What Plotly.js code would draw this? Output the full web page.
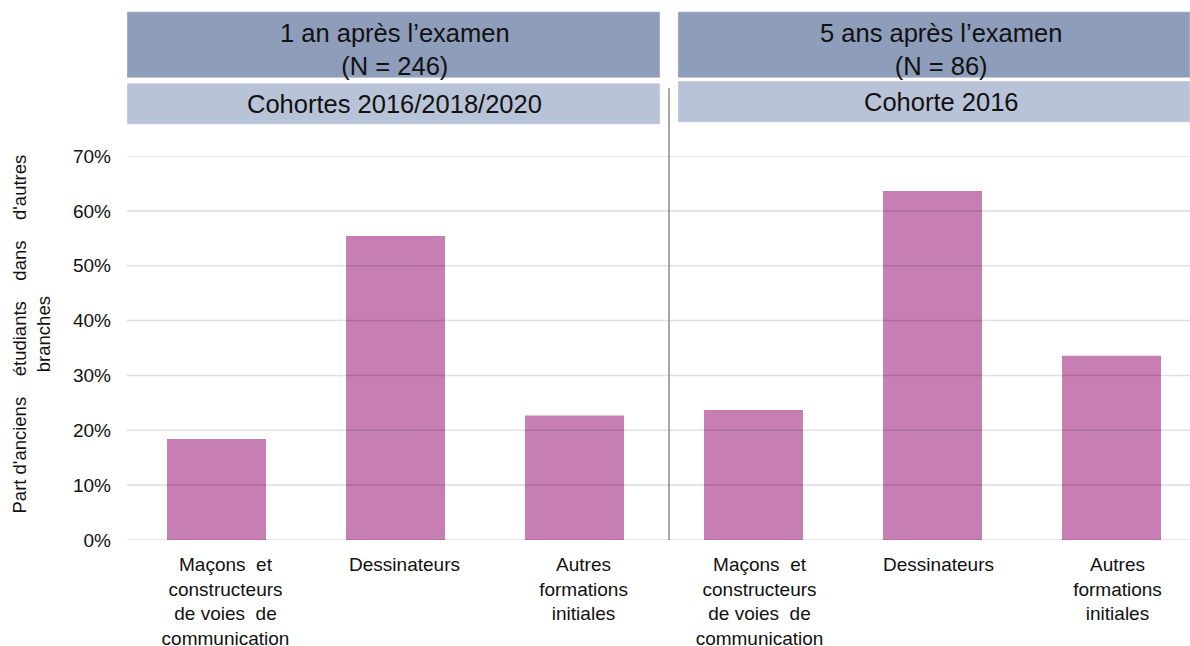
<!DOCTYPE html>
<html>
<head>
<meta charset="utf-8">
<script src="https://cdn.plot.ly/plotly-3.0.1.min.js"></script>
<style>html,body{margin:0;padding:0;background:#fff;}#chart{width:1190px;height:646px;}</style>
</head>
<body>
<div id="chart"></div>
<script>
// ---- data ----
const categories = [
  "Maçons\u00a0\u00a0et<br>constructeurs<br>de voies\u00a0\u00a0de<br>communication",
  "Dessinateurs",
  "Autres<br>formations<br>initiales"
];
const values1an = [0.184, 0.554, 0.227];   // 1 an après l'examen, cohortes 2016/2018/2020
const values5ans = [0.237, 0.636, 0.336];  // 5 ans après l'examen, cohorte 2016
const yTickVals = [0, 0.1, 0.2, 0.3, 0.4, 0.5, 0.6, 0.7];
const yTickText = ["0%", "10%", "20%", "30%", "40%", "50%", "60%", "70%"];
const panelTitles = ["1 an après l’examen<br>(N = 246)", "5 ans après l’examen<br>(N = 86)"];
const panelSubtitles = ["Cohortes 2016/2018/2020", "Cohorte 2016"];
const yTitle = "Part d'anciens\u00a0\u00a0\u00a0 étudiants\u00a0\u00a0\u00a0 dans\u00a0\u00a0\u00a0 d'autres<br>branches";

// ---- style ----
const FONT = "Liberation Sans, Arial, sans-serif";
const BAR = "#C77EB2";
const DARK = "#8E9DBA";
const LIGHT = "#B9C3D7";
const split = 0.5052;

const traces = [
  {type: "bar", x: categories, y: values1an, xaxis: "x", yaxis: "y",
   width: 0.553, marker: {color: BAR, line: {width: 0}}, hoverinfo: "skip"},
  {type: "bar", x: categories, y: values5ans, xaxis: "x2", yaxis: "y",
   width: 0.553, marker: {color: BAR, line: {width: 0}}, hoverinfo: "skip"}
];

const shapes = [];
yTickVals.forEach(v => shapes.push({
  type: "line", xref: "paper", yref: "y", x0: 0, x1: 1, y0: v, y1: v,
  layer: "above", line: {color: "rgba(0,0,0,0.12)", width: 1.6}
}));
// divider
shapes.push({type: "line", xref: "paper", yref: "paper", x0: 0.5099, x1: 0.5099, y0: 0, y1: 1.177,
  line: {color: "#8a8a8a", width: 1.5}});
// header boxes
const boxes = [
  [0, 0.5014, 1.2039, 1.3758, DARK],
  [0.5183, 1.0, 1.2039, 1.3758, DARK],
  [0, 0.5014, 1.0828, 1.1893, LIGHT],
  [0.5183, 1.0, 1.0878, 1.1953, LIGHT]
];
boxes.forEach(b => shapes.push({
  type: "rect", xref: "paper", yref: "paper", x0: b[0], x1: b[1], y0: b[2], y1: b[3],
  fillcolor: b[4], line: {color: "rgba(255,255,255,0.35)", width: 1}, layer: "below"
}));

const annotations = [
  {text: panelTitles[0], x: 0.2521, y: 1.2786},
  {text: panelTitles[1], x: 0.7658, y: 1.2786},
  {text: panelSubtitles[0], x: 0.2521, y: 1.1354},
  {text: panelSubtitles[1], x: 0.7658, y: 1.1406}
].map(a => Object.assign({xref: "paper", yref: "paper", xanchor: "center", yanchor: "middle",
  showarrow: false, font: {family: FONT, size: 25.5, color: "#111"}}, a));
annotations.push({text: yTitle, xref: "paper", yref: "paper", x: -0.0903, y: 0.5352,
  xanchor: "center", yanchor: "middle", textangle: -90, showarrow: false,
  font: {family: FONT, size: 18.5, color: "#111"}});

const xcommon = {type: "category", ticks: "", showline: false, showgrid: false, zeroline: false,
  tickfont: {family: FONT, size: 19, color: "#111"}, fixedrange: true, ticklabelstandoff: 11};

const layout = {
  width: 1190, height: 646,
  margin: {l: 127, r: 0, t: 156, b: 106, pad: 0},
  paper_bgcolor: "#fff", plot_bgcolor: "#fff",
  showlegend: false,
  font: {family: FONT, color: "#111"},
  xaxis: Object.assign({}, xcommon, {domain: [0, split], range: [-0.5, 2.5], ticklabelshift: 9}),
  xaxis2: Object.assign({}, xcommon, {domain: [split, 1], range: [-0.5, 2.4385], anchor: "y", ticklabelshift: 6}),
  yaxis: {range: [0, 0.7], tickvals: yTickVals, ticktext: yTickText, showgrid: false, zeroline: false,
    showline: false, ticks: "", ticklabelstandoff: 15,
    tickfont: {family: FONT, size: 19, color: "#111"}, fixedrange: true},
  shapes: shapes,
  annotations: annotations
};

Plotly.newPlot("chart", traces, layout, {staticPlot: true, displayModeBar: false});
</script>
</body>
</html>
